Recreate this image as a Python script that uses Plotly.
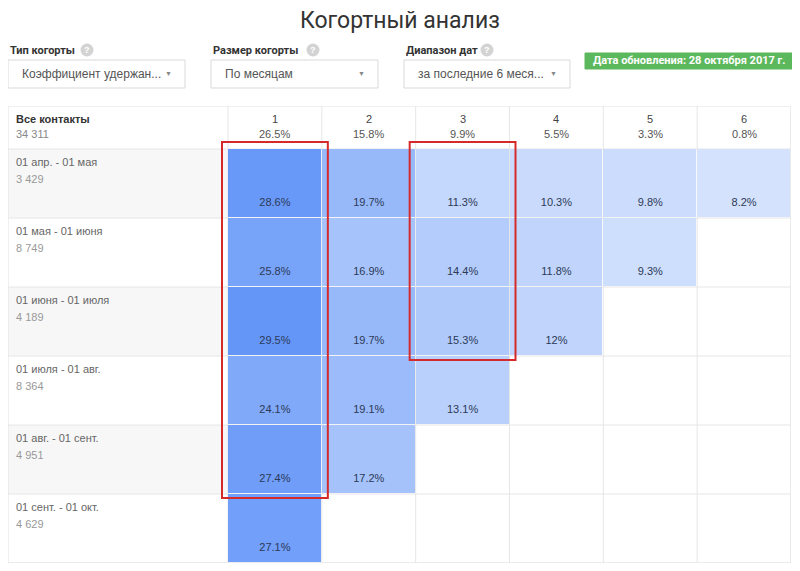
import plotly.graph_objects as go

# ---------------- data ----------------
periods = ["1", "2", "3", "4", "5", "6"]
period_totals = [26.5, 15.8, 9.9, 5.5, 3.3, 0.8]
cohorts = ["01 апр. - 01 мая", "01 мая - 01 июня", "01 июня - 01 июля",
           "01 июля - 01 авг.", "01 авг. - 01 сент.", "01 сент. - 01 окт."]
cohort_sizes = ["3 429", "8 749", "4 189", "8 364", "4 951", "4 629"]
retention = [
    [28.6, 19.7, 11.3, 10.3, 9.8, 8.2],
    [25.8, 16.9, 14.4, 11.8, 9.3, None],
    [29.5, 19.7, 15.3, 12.0, None, None],
    [24.1, 19.1, 13.1, None, None, None],
    [27.4, 17.2, None, None, None, None],
    [27.1, None, None, None, None, None],
]
total_label = "Все контакты"
total_count = "34 311"
title = "Когортный анализ"
filters = [
    ("Тип когорты", "Коэффициент удержан..."),
    ("Размер когорты", "По месяцам"),
    ("Диапазон дат", "за последние 6 меся..."),
]
update_badge = "Дата обновления: 28 октября 2017 г."
highlights = [(0, 0, 4), (2, 0, 2)]  # (column index, first row, last row)

# ---------------- geometry (page pixels; page body has 8px margin) ----------------
OFF = 8
W, H = 784, 555
PLOT_X0, PLOT_X1 = 8, 791     # page px
PLOT_Y0, PLOT_Y1 = 106, 563   # page px
L = PLOT_X0 - OFF
R = (OFF + W) - PLOT_X1
T = PLOT_Y0 - OFF
B = (OFF + H) - PLOT_Y1
plot_w = PLOT_X1 - PLOT_X0
plot_h = PLOT_Y1 - PLOT_Y0
n_cols = len(periods)
n_rows = len(cohorts)
col_px = (PLOT_X1 - 228) / n_cols
row_px = (PLOT_Y1 - 149) / n_rows
label_units = (228 - PLOT_X0) / col_px
header_units = (149 - PLOT_Y0) / row_px

FONT = "Arial, Liberation Sans, sans-serif"


def X(px):
    return (px - PLOT_X0) / plot_w


def Y(py):
    return (PLOT_Y1 - py) / plot_h


fig = go.Figure()

xs = [i + 0.5 for i in range(n_cols)]
ys = [j + 0.5 for j in range(n_rows)]
zmax = max(v for row in retention for v in row if v is not None)

fig.add_trace(go.Heatmap(
    x=xs, y=ys, z=retention,
    colorscale=[[0, "#ffffff"], [1, "rgb(100,150,248)"]],
    zmin=0, zmax=zmax, showscale=False, xgap=1, ygap=1,
    hoverinfo="skip",
))

# cell value texts
tx, ty, tt = [], [], []
for j, row in enumerate(retention):
    for i, v in enumerate(row):
        if v is not None:
            tx.append(i + 0.5)
            ty.append(j + 54 / row_px)
            tt.append(f"{v:g}%")
fig.add_trace(go.Scatter(
    x=tx, y=ty, text=tt, mode="text",
    textfont=dict(family=FONT, size=11, color="#2c3a57"),
    hoverinfo="skip", showlegend=False,
))

shapes = []
annotations = []
grid = "#e6e6e6"

# label column backgrounds
for j in range(n_rows):
    if j % 2 == 0:
        shapes.append(dict(type="rect", xref="x", yref="y", layer="below",
                           x0=-label_units, x1=0, y0=j, y1=j + 1,
                           fillcolor="#f7f7f7", line=dict(width=0)))
# horizontal grid lines
for j in range(n_rows + 1):
    shapes.append(dict(type="line", xref="x", yref="y", layer="below",
                       x0=-label_units, x1=n_cols, y0=j, y1=j,
                       line=dict(color=grid, width=1)))
# vertical grid lines
for i in range(n_cols + 1):
    shapes.append(dict(type="line", xref="x", yref="y", layer="below",
                       x0=i, x1=i, y0=-header_units, y1=n_rows,
                       line=dict(color=grid, width=1)))
# outer border
shapes.append(dict(type="rect", xref="x", yref="y", layer="below",
                   x0=-label_units, x1=n_cols, y0=-header_units, y1=n_rows,
                   line=dict(color="#e2e2e2", width=1)))

# red highlight boxes
for (c, r0, r1) in highlights:
    shapes.append(dict(type="rect", xref="x", yref="y", layer="above",
                       x0=c - 6 / col_px, x1=c + 1 + 6 / col_px,
                       y0=r0 - 7 / row_px, y1=r1 + 1 + 4 / row_px,
                       line=dict(color="#d42a2a", width=2)))

# header texts
for i, (p, tot) in enumerate(zip(periods, period_totals)):
    annotations.append(dict(xref="x", yref="y", x=i + 0.5, y=-30 / row_px,
                            text=p, showarrow=False,
                            font=dict(family=FONT, size=11, color="#444")))
    annotations.append(dict(xref="x", yref="y", x=i + 0.5, y=-15 / row_px,
                            text=f"{tot:g}%", showarrow=False,
                            font=dict(family=FONT, size=11, color="#555")))

lx = -label_units + 6 / col_px
annotations.append(dict(xref="x", yref="y", x=lx, y=-30 / row_px,
                        text=f"<b>{total_label}</b>", showarrow=False,
                        xanchor="left",
                        font=dict(family=FONT, size=11, color="#333")))
annotations.append(dict(xref="x", yref="y", x=lx, y=-15 / row_px,
                        text=total_count, showarrow=False, xanchor="left",
                        font=dict(family=FONT, size=11, color="#888")))

for j, (c, s) in enumerate(zip(cohorts, cohort_sizes)):
    annotations.append(dict(xref="x", yref="y", x=lx, y=j + 13 / row_px,
                            text=c, showarrow=False, xanchor="left",
                            font=dict(family=FONT, size=11, color="#666")))
    annotations.append(dict(xref="x", yref="y", x=lx, y=j + 30 / row_px,
                            text=s, showarrow=False, xanchor="left",
                            font=dict(family=FONT, size=11, color="#999")))

# ---------------- title ----------------
annotations.append(dict(xref="paper", yref="paper", x=X(400), y=Y(21),
                        text=title, showarrow=False,
                        xanchor="center", yanchor="middle",
                        font=dict(family="Roboto, sans-serif", size=23,
                                  color="#333")))

# ---------------- top controls ----------------
box_x = [(8, 185), (211, 378), (404, 570)]
qmark_x = [87, 313, 487]
for (lab, val), (bx0, bx1), qx in zip(filters, box_x, qmark_x):
    annotations.append(dict(xref="paper", yref="paper", x=X(bx0), y=Y(50),
                            text=f"<b>{lab}</b>", showarrow=False,
                            xanchor="left", yanchor="middle",
                            font=dict(family="Roboto, sans-serif", size=11,
                                      color="#333")))
    shapes.append(dict(type="circle", xref="paper", yref="paper",
                       x0=X(qx - 6.5), x1=X(qx + 6.5), y0=Y(56.5), y1=Y(43.5),
                       fillcolor="#d3d3d3", line=dict(width=0)))
    annotations.append(dict(xref="paper", yref="paper", x=X(qx), y=Y(50),
                            text="<b>?</b>", showarrow=False,
                            xanchor="center", yanchor="middle",
                            font=dict(family=FONT, size=9, color="#ffffff")))
    shapes.append(dict(type="rect", xref="paper", yref="paper",
                       x0=X(bx0), x1=X(bx1), y0=Y(88), y1=Y(60),
                       fillcolor="#ffffff", line=dict(color="#d9d9d9", width=1)))
    annotations.append(dict(xref="paper", yref="paper", x=X(bx0 + 12), y=Y(74),
                            text=val, showarrow=False,
                            xanchor="left", yanchor="middle",
                            font=dict(family=FONT, size=12, color="#555")))
    annotations.append(dict(xref="paper", yref="paper", x=X(bx1 - 17), y=Y(74),
                            text="▼", showarrow=False,
                            xanchor="center", yanchor="middle",
                            font=dict(family=FONT, size=7, color="#888")))

shapes.append(dict(type="rect", xref="paper", yref="paper",
                   x0=X(585), x1=X(792), y0=Y(69), y1=Y(53),
                   fillcolor="#5cb85c", line=dict(color="#5cb85c", width=1)))
annotations.append(dict(xref="paper", yref="paper", x=X(688.5), y=Y(61),
                        text=f"<b>{update_badge}</b>", showarrow=False,
                        xanchor="center", yanchor="middle",
                        font=dict(family="Roboto, sans-serif", size=11,
                                  color="#ffffff")))

fig.update_layout(
    width=W, height=H,
    margin=dict(l=L, r=R, t=T, b=B, pad=0),
    paper_bgcolor="#ffffff", plot_bgcolor="#ffffff",
    xaxis=dict(range=[-label_units, n_cols], visible=False, fixedrange=True),
    yaxis=dict(range=[n_rows, -header_units], visible=False, fixedrange=True),
    shapes=shapes, annotations=annotations,
    showlegend=False,
)

fig.write_html("out.html")
